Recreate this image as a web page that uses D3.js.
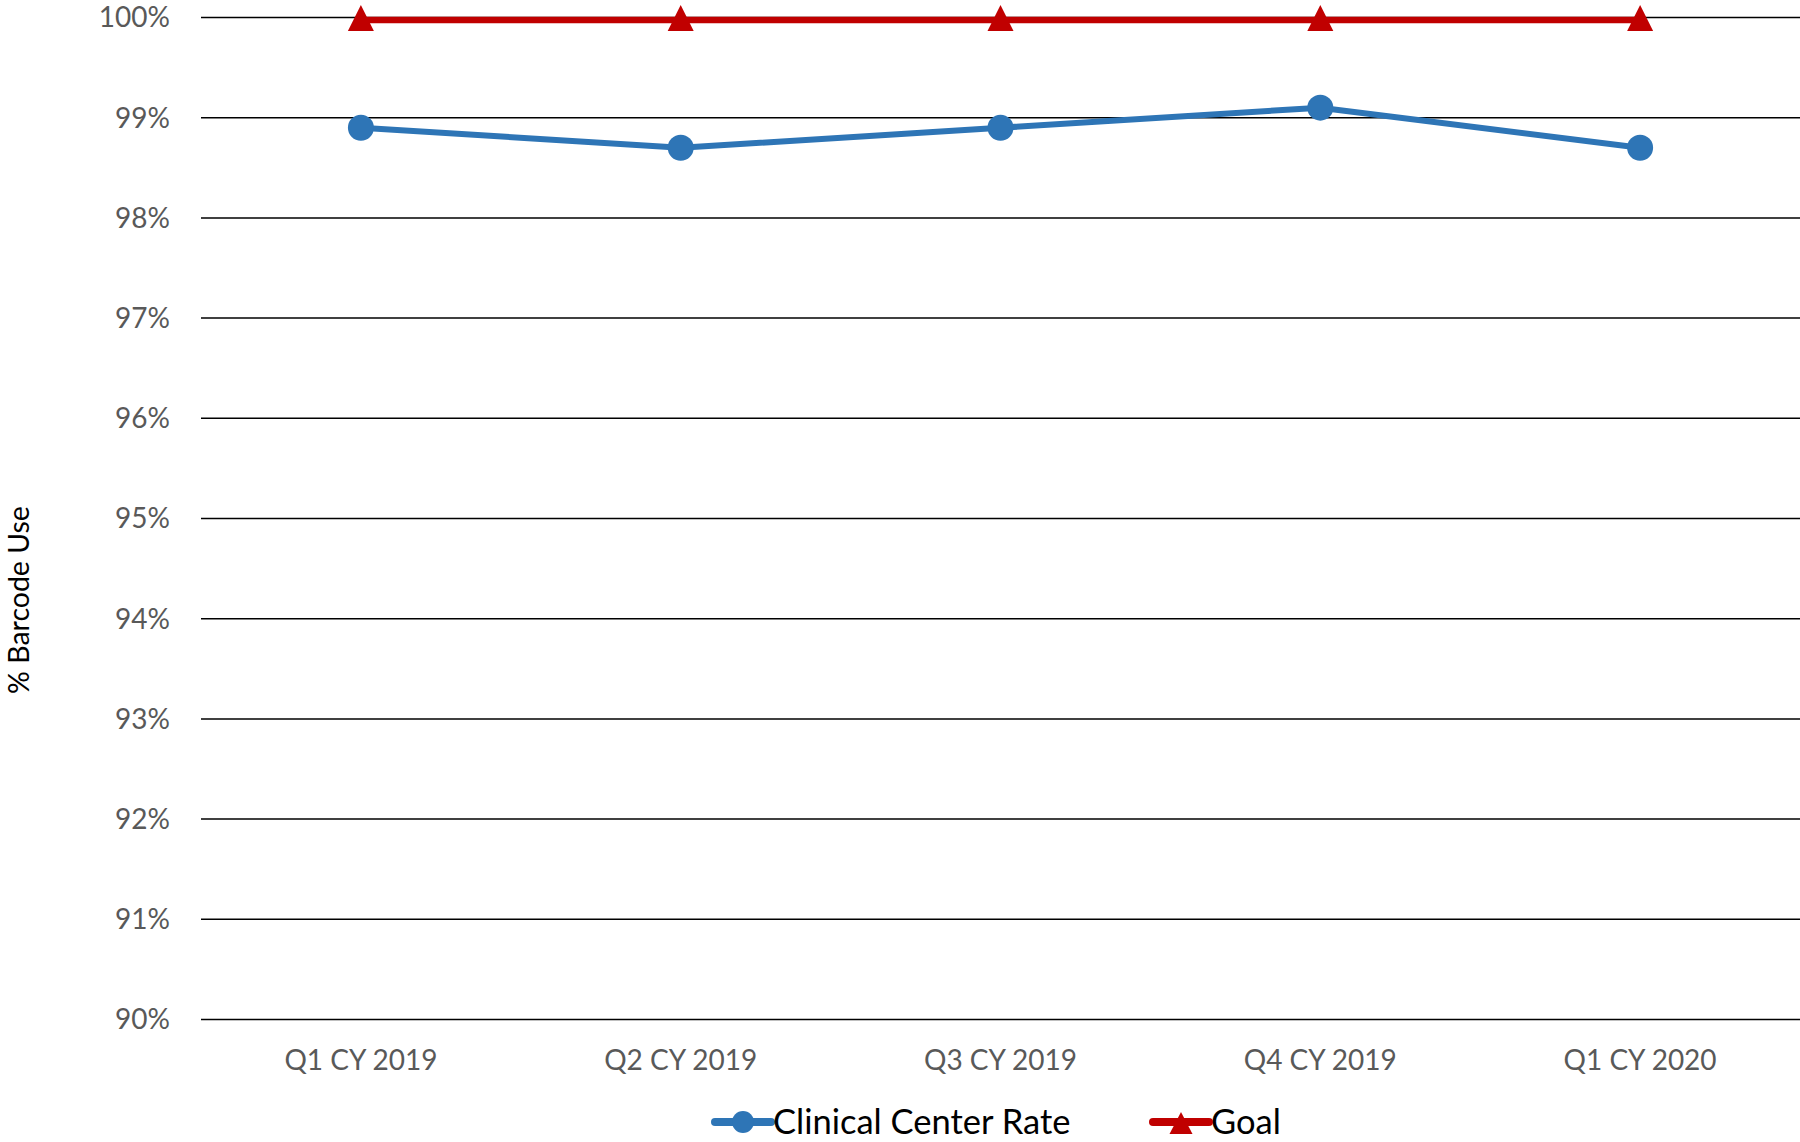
<!DOCTYPE html>
<html>
<head>
<meta charset="utf-8">
<script src="https://cdn.jsdelivr.net/npm/d3@7"></script>
<style>
  html, body { margin: 0; padding: 0; background: #fff; }
  svg { display: block; font-family: Lato, "Open Sans", sans-serif; }
</style>
</head>
<body>
<svg id="chart" width="1800" height="1142"></svg>
<script>
const categories = ["Q1 CY 2019", "Q2 CY 2019", "Q3 CY 2019", "Q4 CY 2019", "Q1 CY 2020"];
const rateValues = [98.9, 98.7, 98.9, 99.1, 98.7];
const goalValues = [100, 100, 100, 100, 100];
const yTicks = [90, 91, 92, 93, 94, 95, 96, 97, 98, 99, 100];
const seriesNames = ["Clinical Center Rate", "Goal"];
const seriesColors = ["#2E75B6", "#C00000"];

const svg = d3.select("#chart");
const plotLeft = 201, plotRight = 1800, plotTop = 17.5, plotBottom = 1019.5;

const x = d3.scalePoint().domain(categories).range([plotLeft, plotRight]).padding(0.5);
const y = d3.scaleLinear().domain([90, 100]).range([plotBottom, plotTop]);

// gridlines
svg.append("g").selectAll("line").data(yTicks).join("line")
  .attr("x1", plotLeft).attr("x2", plotRight)
  .attr("y1", d => y(d)).attr("y2", d => y(d))
  .attr("stroke", "#000").attr("stroke-width", 1.5);

// y tick labels
svg.append("g").selectAll("text").data(yTicks).join("text")
  .attr("x", 170).attr("y", d => y(d)).attr("dy", "0.35em")
  .attr("text-anchor", "end").attr("fill", "#595959")
  .attr("font-size", 28)
  .text(d => d + "%");

// x tick labels
svg.append("g").selectAll("text").data(categories).join("text")
  .attr("x", d => x(d)).attr("y", 1070)
  .attr("text-anchor", "middle").attr("fill", "#595959")
  .attr("font-size", 28)
  .text(d => d);

// y axis title
svg.append("text")
  .attr("transform", "translate(29,600) rotate(-90)")
  .attr("text-anchor", "middle").attr("fill", "#000")
  .attr("font-size", 28.5)
  .text("% Barcode Use");

const line = d3.line().x((d, i) => x(categories[i])).y(d => y(d));
const triPath = "M0,-15L13,11L-13,11Z";

// goal series (drawn slightly offset like the original rendering)
const goalG = svg.append("g").attr("transform", "translate(0,2.5)");
goalG.append("path").datum(goalValues)
  .attr("d", line).attr("fill", "none")
  .attr("stroke", seriesColors[1]).attr("stroke-width", 6.5);
goalG.append("g").selectAll("path").data(goalValues).join("path")
  .attr("transform", (d, i) => `translate(${x(categories[i])},${y(d)})`)
  .attr("d", triPath).attr("fill", seriesColors[1]);

// rate series
svg.append("path").datum(rateValues)
  .attr("d", line).attr("fill", "none")
  .attr("stroke", seriesColors[0]).attr("stroke-width", 6).attr("stroke-linejoin", "round");
svg.append("g").selectAll("circle").data(rateValues).join("circle")
  .attr("cx", (d, i) => x(categories[i])).attr("cy", d => y(d)).attr("r", 13)
  .attr("fill", seriesColors[0]);

// legend
const legend = svg.append("g");
const ly = 1122;
const items = [
  {name: seriesNames[0], color: seriesColors[0], x0: 715, type: "circle"},
  {name: seriesNames[1], color: seriesColors[1], x0: 1153, type: "triangle"}
];
items.forEach(it => {
  legend.append("line").attr("x1", it.x0).attr("x2", it.x0 + 56)
    .attr("y1", ly).attr("y2", ly)
    .attr("stroke", it.color).attr("stroke-width", 8).attr("stroke-linecap", "round");
  if (it.type === "circle") {
    legend.append("circle").attr("cx", it.x0 + 28).attr("cy", ly).attr("r", 11).attr("fill", it.color);
  } else {
    legend.append("path").attr("transform", `translate(${it.x0 + 28},${ly})`)
      .attr("d", "M0,-10L11.5,12L-11.5,12Z").attr("fill", it.color);
  }
  legend.append("text").attr("x", it.x0 + 58).attr("y", ly).attr("dy", "0.35em")
    .attr("fill", "#000").attr("font-size", 34.5).text(it.name);
});
</script>
</body>
</html>
